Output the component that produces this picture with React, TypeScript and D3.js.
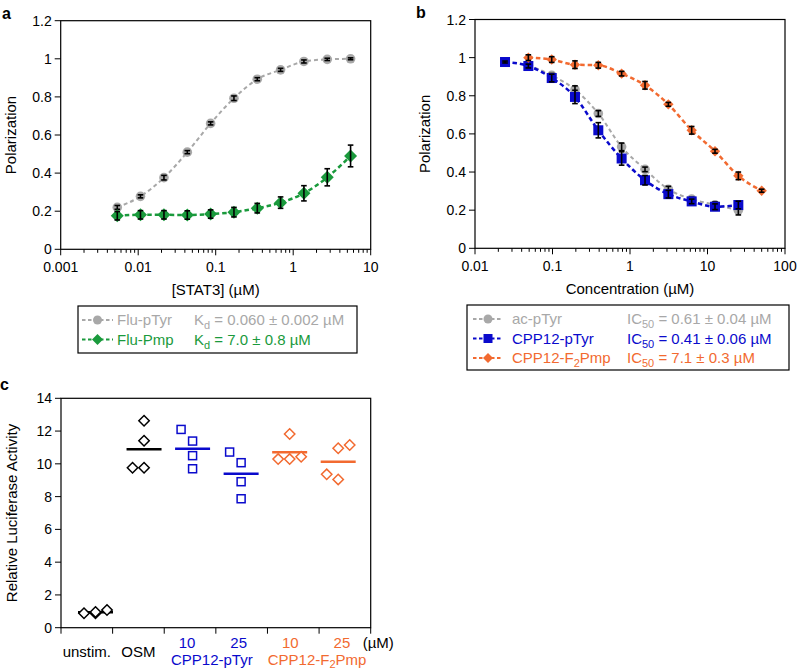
import React from 'react';
import * as d3 from 'd3';

const FONT = "'Liberation Sans', Arial, Helvetica, sans-serif";

const GREY = '#a8a8a8';
const GREEN = '#1a9a3c';
const BLUE = '#0a0acc';
const ORANGE = '#f26a30';

// ---------- Panel a ----------
const concA = [0.00537, 0.0107, 0.0215, 0.043, 0.086, 0.172, 0.344, 0.6875, 1.375, 2.75, 5.5];
const fluPTyr = [0.22, 0.278, 0.376, 0.51, 0.661, 0.793, 0.893, 0.942, 0.986, 0.997, 1.0];
const fluPTyrErr = [0.01, 0.008, 0.012, 0.008, 0.008, 0.012, 0.008, 0.008, 0.008, 0.006, 0.005];
const fluPmp = [0.176, 0.181, 0.181, 0.18, 0.185, 0.195, 0.216, 0.245, 0.294, 0.378, 0.49];
const fluPmpErr = [0.022, 0.022, 0.022, 0.022, 0.022, 0.025, 0.025, 0.03, 0.04, 0.045, 0.057];

// ---------- Panel b ----------
const concB = [0.0244, 0.0488, 0.0977, 0.195, 0.39, 0.78, 1.5625, 3.125, 6.25, 12.5, 25];
const concBGrey = [0.0488, 0.0977, 0.195, 0.39, 0.78, 1.5625, 3.125, 6.25, 12.5, 25];
const concBOrange = [0.0488, 0.0977, 0.195, 0.39, 0.78, 1.5625, 3.125, 6.25, 12.5, 25, 50];
const acPTyr = [0.96, 0.907, 0.832, 0.707, 0.532, 0.414, 0.31, 0.258, 0.228, 0.2];
const acPTyrErr = [0.01, 0.01, 0.02, 0.015, 0.02, 0.012, 0.015, 0.01, 0.015, 0.025];
const cppPTyr = [0.977, 0.956, 0.893, 0.794, 0.619, 0.471, 0.357, 0.284, 0.246, 0.218, 0.227];
const cppPTyrErr = [0.005, 0.01, 0.02, 0.035, 0.04, 0.035, 0.025, 0.02, 0.012, 0.015, 0.02];
const cppF2Pmp = [1.0, 0.99, 0.963, 0.96, 0.916, 0.855, 0.755, 0.619, 0.509, 0.38, 0.302];
const cppF2PmpErr = [0.015, 0.015, 0.02, 0.015, 0.012, 0.02, 0.01, 0.02, 0.01, 0.02, 0.008];

const yTicksAB = [0, 0.2, 0.4, 0.6, 0.8, 1, 1.2];

// ---------- Panel c ----------
const groupsC = ['unstim', 'OSM', 'pTyr10', 'pTyr25', 'F2Pmp10', 'F2Pmp25'];
const groupColorsC = ['#000000', '#000000', BLUE, BLUE, ORANGE, ORANGE];
const groupShapesC = ['diamond', 'diamond', 'square', 'square', 'diamond', 'diamond'];
const valuesC = [
  [0.88, 0.88, 0.96, 1.08],
  [12.63, 11.41, 9.76, 9.76],
  [12.1, 11.39, 10.5, 9.7],
  [10.72, 10.07, 8.91, 7.87],
  [11.82, 10.29, 10.29, 10.43],
  [10.95, 11.15, 9.36, 9.05],
];
const jitterC = [
  [-1, 0, 0, 1],
  [0, 0, -1, 0],
  [-1, 0, 0, 0],
  [-1, 0, 0, 0],
  [0, -1, 0, 1],
  [0, 1, -1, 0],
];
const yTicksC = [0, 2, 4, 6, 8, 10, 12, 14];

function fmt(v: number) {
  return String(+v.toPrecision(6));
}

function Marker({ shape, x, y, size, fill, stroke, sw }: any) {
  if (shape === 'circle') return <circle cx={x} cy={y} r={size} fill={fill} stroke={stroke || 'none'} strokeWidth={sw || 0} />;
  if (shape === 'square')
    return <rect x={x - size} y={y - size} width={size * 2} height={size * 2} fill={fill} stroke={stroke || 'none'} strokeWidth={sw || 0} />;
  const p = `M${x},${y - size}L${x + size},${y}L${x},${y + size}L${x - size},${y}Z`;
  return <path d={p} fill={fill} stroke={stroke || 'none'} strokeWidth={sw || 0} />;
}

function LogPanel({ x0, x1, y0, y1, domain, xTitle, series, label, labelX }: any) {
  const xs = d3.scaleLog().domain(domain).range([x0, x1]);
  const ys = d3.scaleLinear().domain([0, 1.2]).range([y1, y0]);
  const ticks = xs.ticks();
  const isMajor = (v: number) => Math.abs(Math.log10(v) - Math.round(Math.log10(v))) < 1e-6;
  const line = d3
    .line<[number, number]>()
    .x((d) => xs(d[0]))
    .y((d) => ys(d[1]))
    .curve(d3.curveMonotoneX);
  return (
    <g>
      <text x={labelX} y={y0 - 2} fontSize={16} fontWeight="bold" fontFamily={FONT}>
        {label}
      </text>
      {yTicksAB.map((t) => (
        <g key={'y' + t}>
          <line x1={x0 - 6} x2={x0} y1={ys(t)} y2={ys(t)} stroke="#000" strokeWidth={1} />
          <text x={x0 - 9} y={ys(t) + 5} textAnchor="end" fontSize={14} fontFamily={FONT}>
            {fmt(t)}
          </text>
        </g>
      ))}
      {ticks.map((t, i) => (
        <g key={'x' + i}>
          <line x1={xs(t)} x2={xs(t)} y1={y1} y2={y1 + (isMajor(t) ? 6 : 3.5)} stroke="#000" strokeWidth={1} />
          {isMajor(t) && (
            <text x={xs(t)} y={y1 + 23} textAnchor="middle" fontSize={14} fontFamily={FONT}>
              {fmt(t)}
            </text>
          )}
        </g>
      ))}
      <rect x={x0} y={y0} width={x1 - x0} height={y1 - y0} fill="none" stroke="#000" strokeWidth={1.2} />
      <text x={(x0 + x1) / 2} y={y1 + 46} textAnchor="middle" fontSize={15} fontFamily={FONT}>
        {xTitle}
      </text>
      <text
        transform={`translate(${x0 - 45},${(y0 + y1) / 2}) rotate(-90)`}
        textAnchor="middle"
        fontSize={15}
        fontFamily={FONT}
      >
        Polarization
      </text>
      {series.map((s: any, si: number) => {
        const pts: [number, number][] = s.x.map((c: number, i: number) => [c, s.y[i]]);
        return (
          <g key={'s' + si}>
            <path d={line(pts) || ''} fill="none" stroke={s.color} strokeWidth={s.lw} strokeDasharray={s.dash} />
            {pts.map((p, i) => (
              <Marker key={i} shape={s.shape} x={xs(p[0])} y={ys(p[1])} size={s.size} fill={s.color} />
            ))}
            {pts.map((p, i) => {
              const cx = xs(p[0]);
              const ya = ys(p[1] + s.err[i]);
              const yb = ys(p[1] - s.err[i]);
              return (
                <g key={'e' + i} stroke="#000" strokeWidth={1.6}>
                  <line x1={cx} x2={cx} y1={ya} y2={yb} />
                  <line x1={cx - 2.8} x2={cx + 2.8} y1={ya} y2={ya} />
                  <line x1={cx - 2.8} x2={cx + 2.8} y1={yb} y2={yb} />
                </g>
              );
            })}
          </g>
        );
      })}
    </g>
  );
}

function Legend({ x0, y0, w, h, rows, lineX0, lineX1, textX, valX }: any) {
  return (
    <g fontFamily={FONT} fontSize={15}>
      <rect x={x0} y={y0} width={w} height={h} fill="none" stroke="#000" strokeWidth={1.2} />
      {rows.map((r: any, i: number) => {
        const y = y0 + 14 + i * 19.5;
        return (
          <g key={i}>
            <line x1={lineX0} x2={lineX1} y1={y} y2={y} stroke={r.color} strokeWidth={2} strokeDasharray="3.5,2.5" />
            <Marker shape={r.shape} x={(lineX0 + lineX1) / 2} y={y} size={r.size} fill={r.color} />
            <text x={textX} y={y + 5} fill={r.color}>
              {r.name}
            </text>
            <text x={valX} y={y + 5} fill={r.color}>
              {r.val}
            </text>
          </g>
        );
      })}
    </g>
  );
}

function PanelC() {
  const x0 = 61, x1 = 370.7, y0 = 398.3, y1 = 627.7;
  const band = d3.scaleBand().domain(groupsC).range([x0, x1]);
  const pos = d3.scalePoint().domain(groupsC).range([x0 + 34.5, x1 - 32.5]);
  const ys = d3.scaleLinear().domain([0, 14]).range([y1, y0]);
  const bounds = [...groupsC.map((g) => band(g) as number), x1];
  const bc = (g: string) => (band(g) as number) + band.bandwidth() / 2;
  return (
    <g fontFamily={FONT}>
      <text x={0} y={390} fontSize={16} fontWeight="bold">c</text>
      {yTicksC.map((t) => (
        <g key={t}>
          <line x1={x0 - 6} x2={x0} y1={ys(t)} y2={ys(t)} stroke="#000" />
          <text x={x0 - 9} y={ys(t) + 5} textAnchor="end" fontSize={14}>
            {t}
          </text>
        </g>
      ))}
      {bounds.map((b, i) => (
        <line key={i} x1={b} x2={b} y1={y1} y2={y1 + 6} stroke="#000" />
      ))}
      <rect x={x0} y={y0} width={x1 - x0} height={y1 - y0} fill="none" stroke="#000" strokeWidth={1.2} />
      <text
        transform={`translate(${x0 - 44},${(y0 + y1) / 2}) rotate(-90)`}
        textAnchor="middle"
        fontSize={15}
      >
        Relative Luciferase Activity
      </text>
      {groupsC.map((g, gi) => {
        const cx = pos(g) as number;
        const m = d3.mean(valuesC[gi]) as number;
        const col = groupColorsC[gi];
        return (
          <g key={g}>
            <line x1={cx - 17.5} x2={cx + 17.5} y1={ys(m)} y2={ys(m)} stroke={col} strokeWidth={2.5} />
            {valuesC[gi].map((v, i) => (
              <Marker
                key={i}
                shape={groupShapesC[gi]}
                x={cx + jitterC[gi][i] * 11.5}
                y={ys(v)}
                size={groupShapesC[gi] === 'square' ? 4 : 5.2}
                fill="#fff"
                stroke={col}
                sw={1.5}
              />
            ))}
          </g>
        );
      })}
      <text x={bc('unstim')} y={657} textAnchor="middle" fontSize={15}>unstim.</text>
      <text x={bc('OSM')} y={657} textAnchor="middle" fontSize={15}>OSM</text>
      <text x={bc('pTyr10') - 3} y={648} textAnchor="middle" fontSize={15} fill={BLUE}>10</text>
      <text x={bc('pTyr25') - 3} y={648} textAnchor="middle" fontSize={15} fill={BLUE}>25</text>
      <text x={bc('F2Pmp10') - 3} y={648} textAnchor="middle" fontSize={15} fill={ORANGE}>10</text>
      <text x={bc('F2Pmp25') - 3} y={648} textAnchor="middle" fontSize={15} fill={ORANGE}>25</text>
      <text x={x1 - 8} y={648} fontSize={15}>(µM)</text>
      <text x={band('pTyr25') as number - 4} y={665} textAnchor="middle" fontSize={15} fill={BLUE}>CPP12-pTyr</text>
      <text x={band('F2Pmp25') as number - 2} y={665} textAnchor="middle" fontSize={15} fill={ORANGE}>
        CPP12-F<tspan dy={2.5} fontSize={11}>2</tspan>
        <tspan dy={-2.5}>Pmp</tspan>
      </text>
    </g>
  );
}

export default function App() {
  const seriesA = [
    { x: concA, y: fluPTyr, err: fluPTyrErr, color: GREY, shape: 'circle', size: 4.8, lw: 2, dash: '4,3' },
    { x: concA, y: fluPmp, err: fluPmpErr, color: GREEN, shape: 'diamond', size: 6.5, lw: 2.5, dash: '4.5,3' },
  ];
  const seriesB = [
    { x: concBGrey, y: acPTyr, err: acPTyrErr, color: GREY, shape: 'circle', size: 4.8, lw: 2, dash: '4,3' },
    { x: concB, y: cppPTyr, err: cppPTyrErr, color: BLUE, shape: 'square', size: 5, lw: 2.5, dash: '4.5,3' },
    { x: concBOrange, y: cppF2Pmp, err: cppF2PmpErr, color: ORANGE, shape: 'diamond', size: 5.2, lw: 2.5, dash: '4.5,3' },
  ];
  const sub = (s: string) => (
    <tspan dy={4} fontSize={11}>
      {s}
    </tspan>
  );
  return (
    <svg width={800} height={670} style={{ position: 'absolute', left: 0, top: 0, background: '#fff' }}>
      <rect x={0} y={0} width={800} height={670} fill="#fff" />
      <LogPanel x0={60.7} x1={370.7} y0={20.7} y1={249.3} domain={[0.001, 10]} xTitle="[STAT3] (µM)" series={seriesA} label="a" labelX={2} />
      <LogPanel x0={475} x1={785} y0={19.5} y1={248.3} domain={[0.01, 100]} xTitle="Concentration (µM)" series={seriesB} label="b" labelX={416} />
      <Legend
        x0={78}
        y0={306}
        w={279}
        h={47}
        lineX0={82}
        lineX1={113}
        textX={117}
        valX={194}
        rows={[
          { color: GREY, shape: 'circle', size: 4.5, name: 'Flu-pTyr', val: <>K{sub('d')}<tspan dy={-4}> = 0.060 ± 0.002 µM</tspan></> },
          { color: GREEN, shape: 'diamond', size: 5.5, name: 'Flu-Pmp', val: <>K{sub('d')}<tspan dy={-4}> = 7.0 ± 0.8 µM</tspan></> },
        ]}
      />
      <Legend
        x0={467}
        y0={305}
        w={322}
        h={65}
        lineX0={473}
        lineX1={503}
        textX={512}
        valX={627}
        rows={[
          { color: GREY, shape: 'circle', size: 4.5, name: 'ac-pTyr', val: <>IC{sub('50')}<tspan dy={-4}> = 0.61 ± 0.04 µM</tspan></> },
          { color: BLUE, shape: 'square', size: 4.5, name: 'CPP12-pTyr', val: <>IC{sub('50')}<tspan dy={-4}> = 0.41 ± 0.06 µM</tspan></> },
          {
            color: ORANGE,
            shape: 'diamond',
            size: 5,
            name: <>CPP12-F{sub('2')}<tspan dy={-4}>Pmp</tspan></>,
            val: <>IC{sub('50')}<tspan dy={-4}> = 7.1 ± 0.3 µM</tspan></>,
          },
        ]}
      />
      <PanelC />
    </svg>
  );
}
